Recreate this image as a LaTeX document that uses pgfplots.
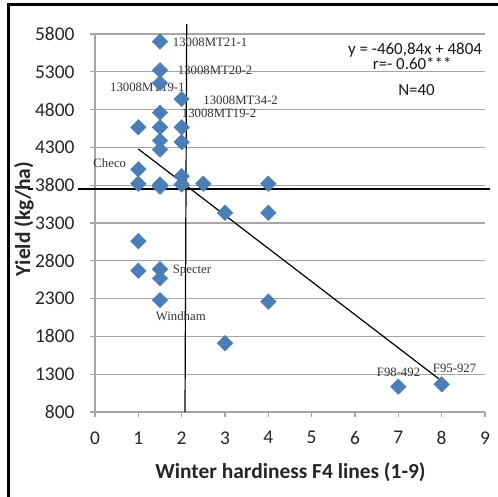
\documentclass[border=0pt]{standalone}
\usepackage{pgfplots}
\pgfplotsset{compat=1.18}
\usepackage{fontspec}
\setmainfont{Liberation Serif}
\newfontfamily\calfont{Carlito}
\definecolor{mblue}{RGB}{74,126,187}
\definecolor{gridgray}{RGB}{165,165,165}
\begin{document}
\begin{tikzpicture}
\path[use as bounding box] (0,0) rectangle (498bp,497bp);
\fill[white] (0,0) rectangle (498bp,497bp);
\draw[line width=3bp] (8bp,0) -- (8bp,492bp) -- (498bp,492bp);
\begin{axis}[
  at={(95bp,85bp)}, anchor=south west,
  width=390bp, height=378bp, scale only axis,
  xmin=0, xmax=9, ymin=800, ymax=5800,
  xtick={0,1,...,9}, ytick={800,1300,...,5800},
  axis x line*=bottom, axis y line*=left,
  axis line style={gridgray, line width=1.2bp, -},
  ymajorgrids, grid style={gridgray, line width=1.2bp},
  tick style={gridgray, line width=1.2bp}, tick align=outside, major tick length=5bp,
  ticklabel style={font=\calfont\fontsize{19.5}{22}\selectfont, text=black!85},
  yticklabel style={xshift=-12bp},
  xticklabel style={yshift=-11bp},
  /pgf/number format/assume math mode=true,
  /pgf/number format/1000 sep={},
  clip=false,
]
\addplot[black, line width=1.2bp] coordinates {(-1.55,3750) (-1.42,3750)};
\addplot[black, line width=1.2bp] coordinates {(-0.40,3750) (9.12,3750)};
\addplot[black, line width=1.2bp] coordinates {(2.077,800) (2.116,5932)};
\addplot[only marks, mark=square*, mark size=5.5bp,
  mark options={rotate=45, fill=mblue, draw=mblue}] coordinates {
  (1.5,5700) (1.5,5320) (1.5,5150) (2,4940) (1.5,4760)
  (1,4566) (1.5,4566) (2,4566) (1.5,4390) (2,4370) (1.5,4270)
  (1,4010) (2,3920) (1,3820) (1.5,3810) (1.5,3780) (2,3810)
  (2.5,3820) (4,3820) (3,3435) (4,3435) (1,3060) (1,2669)
  (1.5,2688) (1.5,2568) (1.5,2280) (4,2260) (3,1710) (7,1135) (8,1166)
};
\addplot[black, line width=1.2bp] coordinates {(1,4279) (8,1210)};
\begin{scope}[every node/.style={font=\fontsize{12.8}{14}\selectfont, inner sep=0pt, anchor=west, text=black!80}]
\node at (axis cs:1.793,5685) {13008MT21-1};
\node at (axis cs:1.909,5315) {13008MT20-2};
\node at (axis cs:0.346,5090) {13008MT19-1};
\node at (axis cs:2.499,4927) {13008MT34-2};
\node at (axis cs:2.001,4751) {13008MT19-2};
\node at (axis cs:-0.04,4098) {Checo};
\node at (axis cs:1.793,2669) {Specter};
\node at (axis cs:1.401,2074) {Windham};
\node at (axis cs:6.501,1320) {F98-492};
\node at (axis cs:7.794,1378) {F95-927};
\end{scope}
\begin{scope}[every node/.style={font=\calfont\fontsize{17}{19}\selectfont, inner sep=0pt, anchor=center, text=black!90}]
\node at (axis cs:7.385,5589) {y = -460,84x + 4804};
\node at (axis cs:7.32,5405) {r=- 0.60***};
\node at (axis cs:7.42,5059) {N=40};
\end{scope}
\end{axis}
\node[font=\calfont\bfseries\fontsize{21.5}{24}\selectfont, text=black!85] at (290.5bp,25bp) {Winter hardiness F4 lines (1-9)};
\node[rotate=90, font=\calfont\bfseries\fontsize{21.5}{24}\selectfont, text=black!85] at (24bp,278bp) {Yield (kg/ha)};
\end{tikzpicture}
\end{document}
